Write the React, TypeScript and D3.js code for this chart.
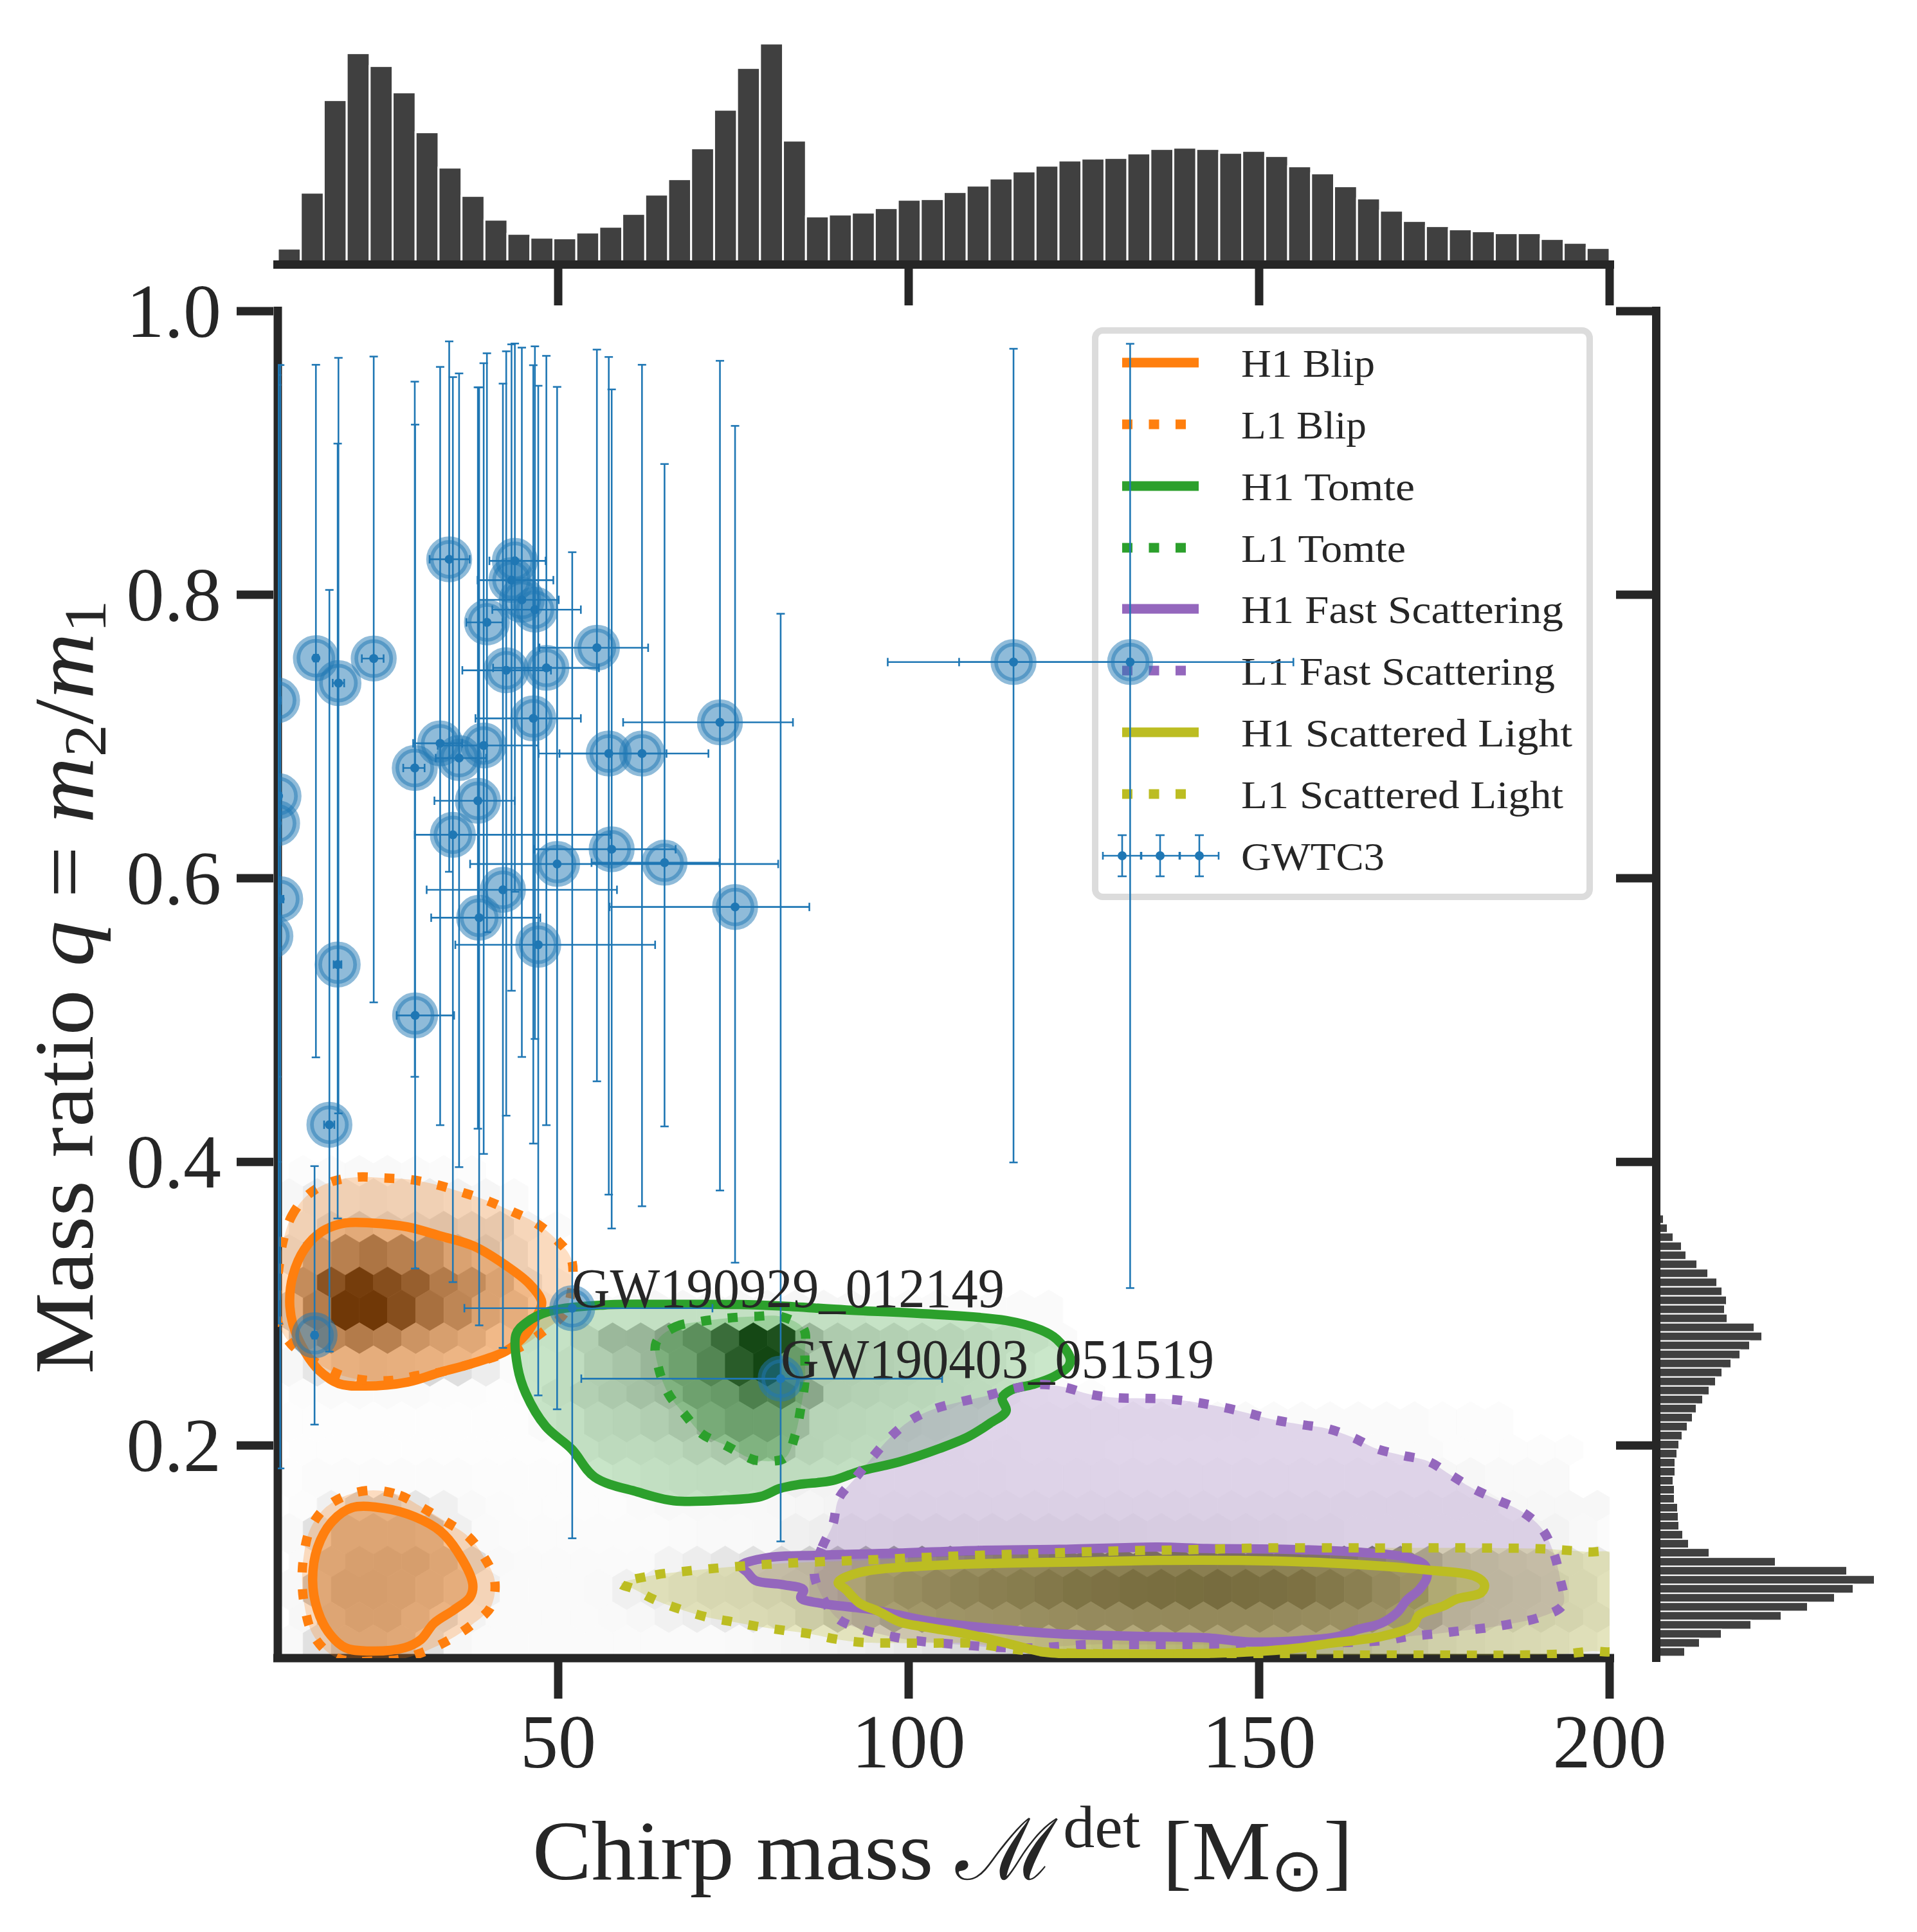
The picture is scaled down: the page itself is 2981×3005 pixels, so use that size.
import * as d3 from "d3";

const WIDTH = 2981;
const HEIGHT = 3005;
const INK = "#262626";
const BLUE = "#1f77b4";
const SERIF = "'Liberation Serif', serif";

const massTicks = [50, 100, 150, 200];
const ratioTicks = [0.2, 0.4, 0.6, 0.8, 1.0];

// marginal histogram of chirp mass, 58 bins between 10 and 200
const massCounts = [
  55, 316, 748, 967, 907, 784, 598, 433, 301, 190, 124, 106, 103, 130, 157, 217, 307, 379, 523, 703, 898, 1012, 559, 205,
  214, 223, 244, 283, 286, 319, 349, 382, 415, 442, 466, 475, 478, 499, 520, 526, 520, 502, 511, 487, 439, 406, 346, 289,
  232, 184, 160, 145, 136, 127, 127, 100, 82, 58,
];
// marginal histogram of mass ratio, from the top bin down
const ratioCounts = [
  15, 33, 60, 99, 120, 171, 222, 264, 288, 309, 300, 312, 438, 474, 417, 372, 330, 288, 258, 228, 198, 168, 150, 126, 102,
  87, 78, 69, 69, 60, 66, 66, 81, 84, 87, 105, 132, 228, 537, 870, 999, 900, 813, 687, 564, 423, 285, 183, 114,
];
const ratioBinTop = 0.3627;
const ratioBinBottom = 0.0512;

const mass = (m: number) => 10 + (m - 10) * 1.00826;

// GWTC3 events
const eventMass = [15.39, 18.58, 23.57, 17.3, 18.47, 15.2, 29.38, 29.43, 32.97, 34.25, 34.77, 35.65, 38.31, 38.49, 39.13, 39.59, 41.85, 42.32, 43.07, 43.54, 44.53, 46.15, 46.38, 46.85, 48.0, 49.52, 51.66, 55.15, 56.83, 57.24, 61.53, 64.72, 72.56, 74.7, 81.15, 114.1, 130.6, 9.9, 10.1, 9.9, 10.34, 8.95];
const eventMassLow = [15.1, 17.77, 21.89, 16.55, 17.9, 14.9, 27.75, 26.82, 29.15, 31.47, 29.38, 32.34, 32.16, 31.7, 32.63, 36.69, 31.06, 36.11, 38.26, 39.94, 38.43, 37.97, 40.35, 35.12, 40.46, 37.21, 36.4, 47.02, 49.86, 46.27, 46.9, 54.39, 58.86, 56.94, 52.94, 96.3, 106.4, 9.6, 9.8, 9.6, 10.0, 8.6];
const eventMassHigh = [15.7, 19.39, 24.97, 18.0, 19.0, 15.5, 30.77, 34.95, 36.1, 37.15, 57.12, 39.48, 43.54, 47.14, 46.85, 41.8, 57.99, 48.65, 48.99, 47.89, 49.75, 52.88, 52.88, 63.39, 55.44, 80.8, 71.5, 62.4, 65.0, 66.29, 70.93, 72.5, 82.89, 85.21, 104.0, 130.3, 153.7, 10.4, 10.5, 10.3, 10.8, 9.4];
const eventRatio = [0.7553, 0.7377, 0.755, 0.4262, 0.5392, 0.2777, 0.6778, 0.5033, 0.6952, 0.825, 0.6307, 0.6848, 0.6547, 0.5722, 0.6937, 0.7805, 0.5919, 0.7467, 0.8103, 0.8239, 0.7964, 0.7128, 0.7895, 0.5531, 0.7484, 0.6101, 0.2968, 0.7626, 0.688, 0.6205, 0.688, 0.611, 0.71, 0.5798, 0.2471, 0.7525, 0.7525, 0.7255, 0.658, 0.6388, 0.5853, 0.5592];
const eventRatioLow = [0.4737, 0.4342, 0.5125, 0.2662, 0.3601, 0.2147, 0.46, 0.3248, 0.4259, 0.6046, 0.3152, 0.3963, 0.4234, 0.2847, 0.4056, 0.562, 0.2688, 0.4326, 0.5207, 0.5905, 0.474, 0.4129, 0.4867, 0.2353, 0.4259, 0.2255, 0.1345, 0.4568, 0.3769, 0.353, 0.3687, 0.425, 0.3798, 0.3289, 0.1323, 0.3996, 0.311, 0.46, 0.2859, 0.4, 0.1838, 0.29];
const eventRatioHigh = [0.9622, 0.9671, 0.968, 0.8034, 0.9066, 0.397, 0.9503, 0.92, 0.9607, 0.9787, 0.9535, 0.9561, 0.9463, 0.9463, 0.9633, 0.9703, 0.9489, 0.9717, 0.9766, 0.9772, 0.9743, 0.9619, 0.9752, 0.9474, 0.9685, 0.9466, 0.83, 0.9729, 0.9677, 0.9448, 0.9622, 0.8922, 0.965, 0.9191, 0.7866, 0.9735, 0.977, 0.955, 0.962, 0.948, 0.962, 0.95];

// density hexes: row (0 is q = 0.2952), first column, darkness 0-255
const hexRowOrigin = 0.2952;
const hexRowStep = 0.01968;
const hexColOrigin = 19.63;
const hexColStep = 4.014;
const hexRows: [number, number, number[]][] = [
  [5, -2, [3, 5, 6, 6, 5, 4, 3]],
  [4, -2, [8, 20, 20, 22, 20, 20, 14, 9, 5]],
  [3, -2, [18, 40, 50, 40, 35, 40, 32, 30, 12, 5]],
  [2, -2, [25, 85, 125, 145, 125, 105, 65, 45, 22, 6]],
  [1, -2, [105, 205, 245, 215, 185, 135, 105, 65, 25, 6]],
  [0, -2, [45, 130, 255, 255, 215, 155, 115, 65, 45, 15, 6, 6, 6, 9, 9, 9, 9, 9, 9, 9, 9, 5, 5, 5, 5, 5, 5, 5]],
  [-1, -2, [55, 115, 135, 125, 90, 70, 55, 25, 8, 6, 30, 63, 65, 92, 124, 185, 250, 235, 65, 37, 35, 30, 27, 25, 20, 15, 10, 5]],
  [-2, -2, [8, 25, 40, 45, 42, 38, 32, 18, 4, 4, 15, 35, 46, 65, 92, 140, 215, 255, 102, 37, 33, 30, 27, 23, 19, 15, 5]],
  [-3, -2, [3, 5, 5, 5, 5, 3, 3, 2, 3, 15, 30, 40, 50, 60, 92, 105, 150, 145, 85, 33, 29, 25, 23, 20, 17, 10, 5, 4, 3]],
  [-4, -2, [2, 2, 2, 2, 2, 2, 2, 2, 2, 5, 10, 23, 27, 33, 45, 75, 95, 95, 60, 25, 23, 20, 17, 15, 10, 7, 6, 6, 6, 6, 6, 6, 6, 6, 6, 5, 5, 5, 5, 5, 5, 3, 3, 3]],
  [-5, -2, [2, 2, 2, 2, 2, 2, 2, 2, 2, 2, 10, 17, 17, 20, 30, 40, 60, 55, 27, 20, 17, 15, 11, 9, 8, 8, 7, 6, 6, 5, 5, 5, 5, 5, 5, 5, 5, 5, 5, 5, 5, 3, 3, 3, 3, 3]],
  [-6, -2, [2, 4, 4, 4, 4, 4, 4, 3, 3, 3, 3, 3, 7, 10, 13, 15, 15, 15, 15, 12, 10, 9, 9, 9, 9, 9, 8, 8, 8, 8, 8, 8, 8, 8, 8, 8, 8, 8, 8, 8, 8, 8, 8, 6, 6, 6]],
  [-7, -2, [3, 15, 40, 40, 25, 15, 6, 4, 3, 3, 3, 3, 5, 7, 7, 7, 7, 8, 9, 11, 11, 12, 12, 12, 12, 12, 12, 12, 12, 12, 12, 12, 12, 12, 12, 12, 12, 12, 12, 12, 12, 12, 12, 8, 8, 8, 8]],
  [-8, -2, [6, 30, 60, 60, 60, 55, 15, 5, 4, 4, 4, 4, 4, 4, 5, 6, 6, 7, 15, 17, 17, 17, 18, 18, 19, 19, 19, 18, 18, 18, 18, 17, 17, 17, 16, 16, 15, 15, 12, 12, 12, 12, 12, 12, 12, 12, 7, 4]],
  [-9, -2, [6, 60, 70, 72, 72, 60, 35, 6, 5, 5, 5, 5, 5, 12, 18, 25, 30, 38, 50, 65, 85, 105, 125, 135, 145, 155, 165, 175, 180, 185, 190, 190, 190, 190, 185, 180, 175, 165, 145, 125, 85, 60, 50, 43, 37, 30, 23, 10]],
  [-10, -2, [7, 55, 75, 75, 70, 60, 45, 15, 5, 5, 5, 6, 15, 20, 25, 30, 32, 38, 45, 65, 80, 125, 145, 165, 180, 190, 200, 215, 228, 233, 243, 245, 247, 250, 245, 240, 235, 215, 190, 155, 135, 80, 60, 50, 45, 40, 30, 17]],
  [-11, -2, [8, 60, 70, 70, 55, 35, 12, 5, 5, 5, 5, 6, 8, 14, 18, 22, 26, 30, 45, 60, 75, 95, 115, 125, 130, 135, 145, 150, 155, 155, 160, 160, 160, 160, 160, 155, 150, 140, 130, 115, 90, 60, 50, 45, 40, 35, 27, 15]],
  [-12, -2, [6, 30, 60, 60, 55, 30, 8, 5, 5, 5, 5, 5, 5, 5, 5, 5, 6, 8, 10, 12, 15, 18, 22, 28, 35, 40, 45, 50, 55, 60, 65, 70, 75, 80, 85, 85, 80, 75, 70, 60, 50, 40, 35, 30, 28, 25, 20, 13]],
];

// density contours as [chirp mass, mass ratio]
const h1BlipHigh = [[11.68, 0.3014], [12.14, 0.3199], [13.77, 0.3384], [16.32, 0.3511], [19.57, 0.3569], [23.28, 0.3569], [28.39, 0.3541], [33.03, 0.3477], [37.68, 0.3407], [42.32, 0.3268], [45.57, 0.3141], [47.33, 0.3014], [46.73, 0.2921], [45.1, 0.2783], [42.32, 0.2667], [37.21, 0.2574], [33.03, 0.2517], [28.39, 0.2447], [22.35, 0.2419], [18.64, 0.2436], [15.86, 0.2528], [13.77, 0.2667], [12.14, 0.2852]];
const h1BlipLow = [[14.93, 0.1047], [15.62, 0.1279], [17.71, 0.1464], [20.5, 0.1561], [25.14, 0.1556], [29.32, 0.1498], [33.03, 0.1394], [35.35, 0.1256], [37.58, 0.1024], [37.21, 0.0931], [34.89, 0.0839], [32.1, 0.0746], [30.25, 0.0631], [27.93, 0.0573], [22.82, 0.055], [19.57, 0.0573], [17.25, 0.0677], [15.62, 0.0839]];
const l1BlipHigh = [[10.75, 0.3442], [12.0, 0.3622], [14.23, 0.3766], [17.48, 0.3858], [21.33, 0.3893], [25.05, 0.3886], [28.76, 0.3875], [32.57, 0.3838], [36.19, 0.3784], [39.76, 0.3724], [43.15, 0.365], [46.5, 0.3569], [49.37, 0.3454], [51.6, 0.3303], [50.7, 0.2945], [47.89, 0.2817], [44.18, 0.269], [40.46, 0.2621], [37.21, 0.2574], [33.03, 0.2517], [29.78, 0.2493], [26.3, 0.2459], [22.73, 0.2459], [19.1, 0.2493], [15.39, 0.2586], [11.91, 0.2713], [10.05, 0.2864], [9.82, 0.306], [10.19, 0.3268]];
const l1BlipLow = [[23.52, 0.1684], [27.23, 0.1649], [30.48, 0.1561], [33.73, 0.1464], [36.89, 0.136], [39.16, 0.1214], [40.69, 0.1047], [40.14, 0.0862], [37.44, 0.0735], [34.33, 0.0631], [30.94, 0.055], [27.37, 0.0492], [23.52, 0.048], [19.8, 0.048], [17.25, 0.0534], [14.93, 0.067], [13.86, 0.0846], [13.44, 0.1036], [13.67, 0.1221], [14.55, 0.1406], [16.64, 0.1556], [19.8, 0.1649]];
const h1Tomte = [[43.71, 0.2783], [45.1, 0.2864], [48.35, 0.2945], [56.25, 0.2991], [65.53, 0.2995], [75.33, 0.2994], [80.99, 0.2984], [90.42, 0.2956], [101.74, 0.2928], [113.05, 0.2881], [117.96, 0.2815], [120.22, 0.2749], [122.1, 0.2618], [121.92, 0.2561], [119.84, 0.2486], [116.82, 0.243], [113.8, 0.2392], [112.49, 0.2336], [113.05, 0.2242], [110.79, 0.2157], [107.77, 0.2063], [103.62, 0.1978], [97.96, 0.1884], [92.31, 0.1818], [88.53, 0.1753], [83.63, 0.1724], [80.99, 0.1696], [78.35, 0.164], [72.96, 0.1614], [66.0, 0.161], [60.89, 0.1672], [54.85, 0.1776], [51.6, 0.1973], [47.89, 0.2135], [45.1, 0.2366], [43.94, 0.2551]];
const l1Tomte = [[63.53, 0.2725], [66.23, 0.2836], [69.94, 0.2875], [73.65, 0.2898], [77.46, 0.291], [81.18, 0.2909], [84.38, 0.2824], [84.57, 0.2636], [84.57, 0.2448], [84.0, 0.2264], [83.25, 0.2082], [81.74, 0.1912], [77.78, 0.1894], [76.65, 0.1912], [73.42, 0.1999], [70.03, 0.2081], [67.62, 0.2216], [65.3, 0.2362], [63.91, 0.254]];
const h1Fast = [[75.52, 0.1151], [79.1, 0.1207], [86.65, 0.1226], [97.96, 0.1241], [109.28, 0.126], [120.6, 0.1267], [134.48, 0.1283], [141.48, 0.1273], [152.51, 0.1268], [163.54, 0.1245], [170.15, 0.1207], [172.36, 0.1151], [172.58, 0.1066], [171.48, 0.0982], [169.71, 0.0907], [168.39, 0.0822], [166.18, 0.0747], [162.66, 0.07], [160.01, 0.0653], [154.72, 0.0624], [147.22, 0.0615], [141.48, 0.0643], [132.66, 0.0653], [120.6, 0.0671], [109.28, 0.0718], [101.74, 0.0765], [97.96, 0.0803], [94.19, 0.0841], [86.65, 0.0888], [84.0, 0.0925], [84.38, 0.0982], [81.37, 0.1019], [77.59, 0.1047], [76.46, 0.1104]];
const l1Fast = [[85.89, 0.1104], [87.02, 0.1283], [88.53, 0.1442], [89.36, 0.1625], [91.74, 0.1771], [94.12, 0.1916], [96.64, 0.2057], [99.47, 0.2176], [102.87, 0.2257], [106.56, 0.2307], [110.22, 0.2349], [113.8, 0.2398], [117.58, 0.243], [121.27, 0.2411], [124.93, 0.236], [128.71, 0.2336], [132.48, 0.2332], [136.19, 0.2326], [139.94, 0.2304], [143.69, 0.227], [147.35, 0.2227], [150.97, 0.2181], [154.72, 0.2148], [158.46, 0.2119], [161.99, 0.2059], [165.39, 0.1978], [169.05, 0.1931], [172.71, 0.189], [175.89, 0.1794], [179.11, 0.1696], [182.51, 0.1617], [185.95, 0.1536], [188.77, 0.1418], [190.45, 0.1254], [191.42, 0.1066], [191.86, 0.0878], [188.68, 0.079], [185.02, 0.0747], [181.27, 0.0715], [177.57, 0.0694], [173.82, 0.0671], [170.02, 0.0653], [166.41, 0.0624], [150.0, 0.06], [132.3, 0.0596], [124.75, 0.0596], [117.2, 0.0572], [111.35, 0.0577], [103.81, 0.0606], [100.04, 0.0624], [96.27, 0.0658], [92.68, 0.0703], [89.21, 0.0779], [87.02, 0.0935]];
const h1Scattered = [[89.29, 0.1034], [92.31, 0.1104], [101.74, 0.1151], [113.05, 0.117], [124.37, 0.1179], [134.48, 0.1189], [145.89, 0.1189], [159.13, 0.117], [172.36, 0.1123], [179.42, 0.1076], [180.74, 0.1019], [180.3, 0.0963], [176.77, 0.0916], [175.0, 0.0869], [171.48, 0.0803], [170.6, 0.0728], [166.18, 0.0653], [159.13, 0.0606], [153.83, 0.0568], [145.89, 0.054], [137.07, 0.053], [124.37, 0.053], [118.71, 0.054], [113.05, 0.0606], [107.39, 0.0671], [101.74, 0.0718], [97.96, 0.0756], [94.95, 0.0831], [92.31, 0.0888], [90.42, 0.0982]];
const l1Scattered = [[58.57, 0.1024], [63.44, 0.1087], [67.15, 0.111], [74.58, 0.1145], [82.12, 0.117], [93.44, 0.1192], [104.75, 0.1217], [116.07, 0.1236], [127.38, 0.1254], [138.6, 0.1264], [149.95, 0.1277], [164.99, 0.1277], [180.08, 0.1277], [187.67, 0.1273], [191.33, 0.1264], [195.17, 0.1249], [199.4, 0.1226], [199.6, 0.0568], [195.74, 0.0549], [192.0, 0.053], [184.36, 0.0521], [176.11, 0.0521], [156.48, 0.0521], [141.48, 0.0521], [116.82, 0.0549], [107.77, 0.0606], [103.99, 0.0606], [96.45, 0.0606], [92.68, 0.0611], [88.91, 0.0634], [85.33, 0.0671], [81.55, 0.0696], [77.78, 0.0724], [74.12, 0.0758], [70.41, 0.0793], [63.67, 0.0904], [60.33, 0.0989]];

const ORANGE = "#ff7f0e";
const GREEN = "#2ca02c";
const PURPLE = "#9467bd";
const OLIVE = "#bcbd22";

const contours: { color: string; dotted: boolean; lobes: number[][][] }[] = [
  { color: ORANGE, dotted: false, lobes: [h1BlipHigh, h1BlipLow] },
  { color: ORANGE, dotted: true, lobes: [l1BlipHigh, l1BlipLow] },
  { color: GREEN, dotted: false, lobes: [h1Tomte] },
  { color: GREEN, dotted: true, lobes: [l1Tomte] },
  { color: PURPLE, dotted: false, lobes: [h1Fast] },
  { color: PURPLE, dotted: true, lobes: [l1Fast] },
  { color: OLIVE, dotted: false, lobes: [h1Scattered] },
  { color: OLIVE, dotted: true, lobes: [l1Scattered] },
];

const legendLabels = ["H1 Blip", "L1 Blip", "H1 Tomte", "L1 Tomte", "H1 Fast Scattering", "L1 Fast Scattering", "H1 Scattered Light", "L1 Scattered Light", "GWTC3"];
const legendWidths = [208, 195, 270, 256, 501, 488, 515, 501, 223];
const legendRows = [564, 660, 756, 852, 947, 1043, 1139, 1235, 1331];

const x = d3.scaleLinear().domain([10, 200]).range([432, 2503]);
const y = d3.scaleLinear().domain([0.05, 1]).range([2579, 484]);
const topHist = d3.scaleLinear().domain([0, 1215]).range([405, 0]);
const rightHist = d3.scaleLinear().domain([0, 999]).range([2582, 2915]);
const massBin = d3.scaleLinear().domain([0, massCounts.length]).range([10, 200]);
const ratioBin = d3.scaleLinear().domain([0, ratioCounts.length]).range([ratioBinTop, ratioBinBottom]);
const hexShade = d3.scaleLinear<string>().domain([0, 255]).range(["#ffffff", "#000000"]);

const contourPath = d3
  .line<number[]>()
  .x((d) => x(mass(d[0])))
  .y((d) => y(d[1]))
  .curve(d3.curveCatmullRomClosed.alpha(0.5));

const hexHalfWidth = (x(hexColStep) - x(0)) / 2;
// the two hexbin lattices do not come out the same height: even rows are taller than odd ones
const hexOutline = (tip: number, shoulder: number) =>
  d3.line()([
    [0, -tip],
    [hexHalfWidth, -shoulder],
    [hexHalfWidth, shoulder],
    [0, tip],
    [-hexHalfWidth, shoulder],
    [-hexHalfWidth, -shoulder],
  ]) + "Z";
const hexEven = hexOutline(32, 19);
const hexOdd = hexOutline(24.4, 11.4);

const AXIS = { stroke: INK, strokeWidth: 13 };
const fmt = d3.format(".1f");

export default function App() {
  return (
    <svg width={WIDTH} height={HEIGHT} viewBox={`0 0 ${WIDTH} ${HEIGHT}`} style={{ position: "absolute", left: 0, top: 0, background: "#fff" }} fontFamily={SERIF} fill={INK}>
      <defs>
        <clipPath id="plot">
          <rect x={x(10)} y={y(1)} width={x(200) - x(10)} height={y(0.05) - y(1)} />
        </clipPath>
      </defs>

      {/* marginals */}
      {massCounts.map((c, i) => (
        <rect key={i} x={x(massBin(i))} y={topHist(c)} width={x(massBin(i + 1)) - x(massBin(i))} height={topHist(0) - topHist(c) + 6} fill="#404040" stroke="#fff" strokeWidth={3} />
      ))}
      {ratioCounts.map((c, i) => (
        <rect key={i} x={rightHist(0) - 6} y={y(ratioBin(i))} width={rightHist(c) - rightHist(0) + 6} height={y(ratioBin(i + 1)) - y(ratioBin(i))} fill="#404040" stroke="#fff" strokeWidth={2} />
      ))}
      <line x1={425} x2={2510} y1={411.5} y2={411.5} {...AXIS} />
      <line x1={2575.5} x2={2575.5} y1={477} y2={2585} {...AXIS} />
      {massTicks.map((t) => (
        <line key={t} x1={x(t)} x2={x(t)} y1={418} y2={475} {...AXIS} />
      ))}
      {ratioTicks.map((t) => (
        <line key={t} x1={2513} x2={2569} y1={y(t)} y2={y(t)} {...AXIS} />
      ))}

      <g clipPath="url(#plot)">
        {hexRows.map(([row, from, shades]) =>
          shades.map((s, i) => (
            <path
              key={`${row}-${i}`}
              d={row % 2 ? hexOdd : hexEven}
              transform={`translate(${x(hexColOrigin + (from + i + (row % 2 ? 0.5 : 0)) * hexColStep)},${y(hexRowOrigin + row * hexRowStep)})`}
              fill={hexShade(s)}
              stroke={hexShade(s)}
              strokeWidth={0.6}
            />
          )),
        )}
      </g>

      {/* main axes */}
      <line x1={x(10)} x2={x(10)} y1={477} y2={2585} {...AXIS} />
      <line x1={425} x2={2510} y1={y(0.05)} y2={y(0.05)} {...AXIS} />
      {massTicks.map((t) => (
        <g key={t}>
          <line x1={x(t)} x2={x(t)} y1={2585} y2={2642} {...AXIS} />
          <text x={x(t)} y={2749} textAnchor="middle" fontSize={118}>{t}</text>
        </g>
      ))}
      {ratioTicks.map((t) => (
        <g key={t}>
          <line x1={368} x2={425} y1={y(t)} y2={y(t)} {...AXIS} />
          <text x={344} y={y(t) + 40} textAnchor="end" fontSize={118}>{fmt(t)}</text>
        </g>
      ))}

      <g clipPath="url(#plot)">
        {contours.map((c, i) => c.lobes.map((l, j) => <path key={`f${i}-${j}`} d={contourPath(l) ?? ""} fill={c.color} fillOpacity={0.25} stroke="none" />))}
        {contours.map((c, i) =>
          c.lobes.map((l, j) => (
            <path key={`s${i}-${j}`} d={contourPath(l) ?? ""} fill="none" stroke={c.color} strokeWidth={14.5} strokeLinejoin="round" strokeDasharray={c.dotted ? "15.5 26" : undefined} />
          )),
        )}
      </g>

      {/* legend */}
      <rect x={1703} y={514} width={769} height={881} rx={12} fill="#fff" stroke="#dcdcdc" strokeWidth={10} />
      {legendLabels.map((label, i) => (
        <g key={label}>
          {i < contours.length && (
            <line x1={1745} x2={1864} y1={legendRows[i]} y2={legendRows[i]} stroke={contours[i].color} strokeWidth={15} strokeDasharray={contours[i].dotted ? "16 25.5" : undefined} />
          )}
          <text x={1930} y={legendRows[i] + 22} fontSize={62} textLength={legendWidths[i]} lengthAdjust="spacingAndGlyphs">{label}</text>
        </g>
      ))}
      {[1745, 1804, 1865].map((hx) => (
        <g key={hx} stroke={BLUE} strokeWidth={2.6}>
          <line x1={hx - 30} x2={hx + 30} y1={1331} y2={1331} />
          <line x1={hx} x2={hx} y1={1299} y2={1363} />
          <line x1={hx - 30} x2={hx - 30} y1={1325} y2={1337} />
          <line x1={hx + 30} x2={hx + 30} y1={1325} y2={1337} />
          <line x1={hx - 7} x2={hx + 7} y1={1299} y2={1299} />
          <line x1={hx - 7} x2={hx + 7} y1={1363} y2={1363} />
          <circle cx={hx} cy={1331} r={7} fill={BLUE} stroke="none" />
        </g>
      ))}

      {/* events */}
      <g clipPath="url(#plot)">
        {eventMass.map((m, i) => (
          <g key={i}>
            <circle cx={x(mass(m))} cy={y(eventRatio[i])} r={30} fill={BLUE} fillOpacity={0.5} stroke={BLUE} strokeOpacity={0.5} strokeWidth={11.5} />
            <g stroke={BLUE} strokeWidth={2.6}>
              <line x1={x(mass(eventMassLow[i]))} x2={x(mass(eventMassHigh[i]))} y1={y(eventRatio[i])} y2={y(eventRatio[i])} />
              <line x1={x(mass(m))} x2={x(mass(m))} y1={y(eventRatioLow[i])} y2={y(eventRatioHigh[i])} />
              <line x1={x(mass(eventMassLow[i]))} x2={x(mass(eventMassLow[i]))} y1={y(eventRatio[i]) - 6.5} y2={y(eventRatio[i]) + 6.5} />
              <line x1={x(mass(eventMassHigh[i]))} x2={x(mass(eventMassHigh[i]))} y1={y(eventRatio[i]) - 6.5} y2={y(eventRatio[i]) + 6.5} />
              <line x1={x(mass(m)) - 6.5} x2={x(mass(m)) + 6.5} y1={y(eventRatioLow[i])} y2={y(eventRatioLow[i])} />
              <line x1={x(mass(m)) - 6.5} x2={x(mass(m)) + 6.5} y1={y(eventRatioHigh[i])} y2={y(eventRatioHigh[i])} />
            </g>
            <circle cx={x(mass(m))} cy={y(eventRatio[i])} r={7} fill={BLUE} />
          </g>
        ))}
      </g>

      <text x={889} y={2033} fontSize={86} textLength={673} lengthAdjust="spacingAndGlyphs">GW190929_012149</text>
      <text x={1214} y={2143} fontSize={86} textLength={674} lengthAdjust="spacingAndGlyphs">GW190403_051519</text>

      {/* axis labels */}
      <text transform="translate(828,2923) scale(1.043,1)" fontSize={132}>
        Chirp mass <tspan fontFamily="'DejaVu Serif', serif">ℳ</tspan>
        <tspan dy={-50} dx={8} fontSize={94}>det</tspan>
        <tspan dy={50}> [M</tspan>
        <tspan dy={18} fontSize={94} fontFamily="'DejaVu Sans', sans-serif">⊙</tspan>
        <tspan dy={-18}>]</tspan>
      </text>
      <text transform="translate(144,2137) rotate(-90) scale(1.08,1)" fontSize={132}>
        Mass ratio <tspan fontStyle="italic">q</tspan> = <tspan fontStyle="italic">m</tspan>
        <tspan dy={20} fontSize={94}>2</tspan>
        <tspan dy={-20}>/</tspan>
        <tspan fontStyle="italic">m</tspan>
        <tspan dy={20} fontSize={94}>1</tspan>
      </text>
    </svg>
  );
}
